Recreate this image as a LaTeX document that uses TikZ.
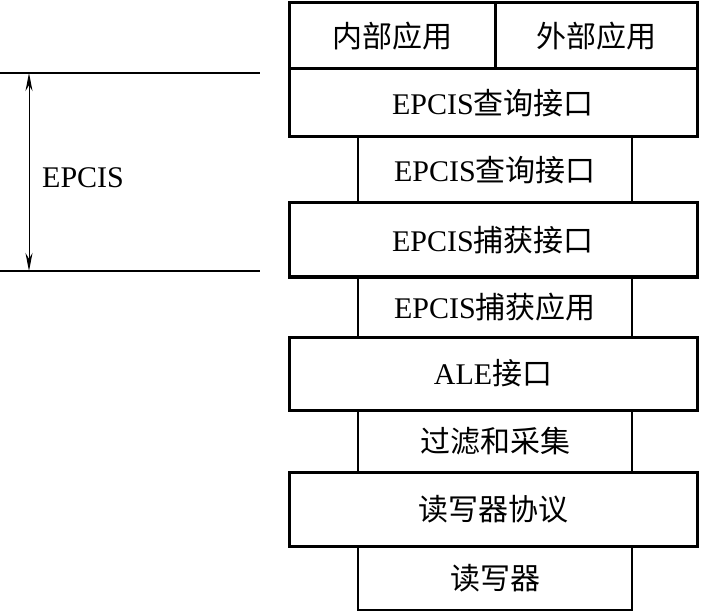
\documentclass[tikz,border=0pt]{standalone}
\usepackage{fontspec}
\setmainfont{Liberation Serif}
\newfontfamily\cjk{Noto Sans CJK SC}
\usetikzlibrary{arrows.meta}
\tikzset{
  base/.style={draw=black, inner sep=0pt, outer sep=0pt, font=\fontsize{30}{36}\selectfont},
  widebox/.style={base, line width=3pt, minimum width=408pt},
  narrowbox/.style={base, line width=2pt, minimum width=274pt},
  cellbox/.style={base, line width=3pt},
  guide/.style={line width=1.5pt},
  dim/.style={line width=1pt, {Stealth[length=18pt,width=7pt]}-{Stealth[length=18pt,width=7pt]}},
}
\begin{document}
\begin{tikzpicture}[x=1pt,y=-1pt]
\useasboundingbox (0,0) rectangle (701,612);
% narrow layers
\node[narrowbox, minimum height=66pt] (n1) at (495,170) {EPCIS{\cjk 查询接口}};
\node[narrowbox, minimum height=60pt] (n2) at (495,307) {EPCIS{\cjk 捕获应用}};
\node[narrowbox, minimum height=62pt] (n3) at (495,441) {\cjk 过滤和采集};
\node[narrowbox, minimum height=64pt] (n4) at (495,578) {\cjk 读写器};
% top cells
\node[cellbox, minimum width=206pt, minimum height=66pt] (c1) at (392,36) {\cjk 内部应用};
\node[cellbox, minimum width=202pt, minimum height=66pt] (c2) at (596,36) {\cjk 外部应用};
% wide layers
\node[widebox, minimum height=68pt] (w1) at (493,103) {EPCIS{\cjk 查询接口}};
\node[widebox, minimum height=74pt] (w2) at (493,240) {EPCIS{\cjk 捕获接口}};
\node[widebox, minimum height=73pt] (w3) at (493,373.5) {ALE{\cjk 接口}};
\node[widebox, minimum height=74pt] (w4) at (493,509) {\cjk 读写器协议};
% EPCIS span marker
\coordinate (ta) at (0,73);
\coordinate (tb) at (260,73);
\coordinate (ba) at (0,271);
\coordinate (bb) at (260,271);
\coordinate (at) at (29,73);
\coordinate (ab) at (29,271);
\draw[guide] (ta) -- (tb);
\draw[guide] (ba) -- (bb);
\draw[dim] (at) -- (ab);
\node[font=\fontsize{30}{36}\selectfont, anchor=west, inner sep=0pt] (lbl) at (42,178) {EPCIS};
\end{tikzpicture}
\end{document}
